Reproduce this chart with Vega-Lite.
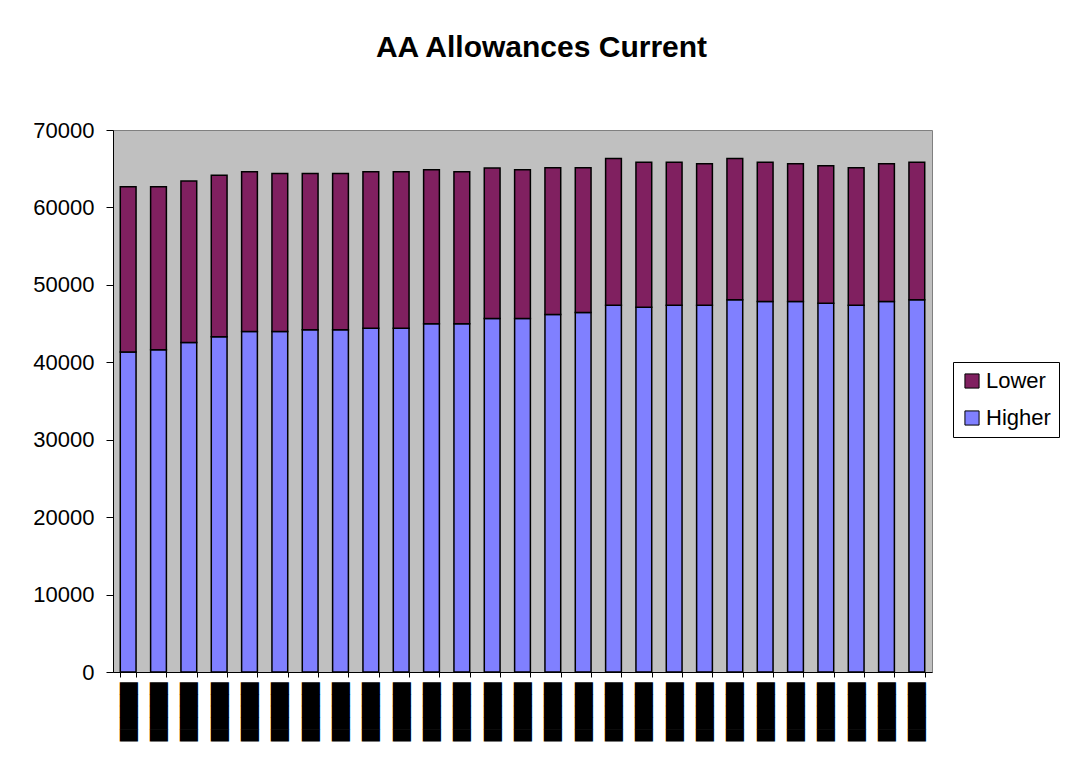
{
  "$schema": "https://vega.github.io/schema/vega-lite/v6.json",
  "autosize": {"type": "none"},
  "width": 819,
  "height": 542,
  "padding": {"left": 113, "top": 130, "right": 133, "bottom": 87},
  "background": "white",
  "title": {
    "text": "AA Allowances Current",
    "font": "Liberation Sans",
    "fontSize": 30,
    "fontWeight": "bold",
    "color": "black",
    "anchor": "middle",
    "frame": "group",
    "baseline": "alphabetic",
    "offset": 32,
    "dx": 19
  },
  "data": {
    "values": [
      {"period": "01", "Higher": 41330, "Lower": 21340},
      {"period": "02", "Higher": 41620, "Lower": 21050},
      {"period": "03", "Higher": 42560, "Lower": 20840},
      {"period": "04", "Higher": 43300, "Lower": 20870},
      {"period": "05", "Higher": 43980, "Lower": 20620},
      {"period": "06", "Higher": 43980, "Lower": 20410},
      {"period": "07", "Higher": 44200, "Lower": 20190},
      {"period": "08", "Higher": 44200, "Lower": 20190},
      {"period": "09", "Higher": 44410, "Lower": 20190},
      {"period": "10", "Higher": 44410, "Lower": 20190},
      {"period": "11", "Higher": 44970, "Lower": 19890},
      {"period": "12", "Higher": 44970, "Lower": 19630},
      {"period": "13", "Higher": 45660, "Lower": 19420},
      {"period": "14", "Higher": 45660, "Lower": 19200},
      {"period": "15", "Higher": 46170, "Lower": 18950},
      {"period": "16", "Higher": 46430, "Lower": 18690},
      {"period": "17", "Higher": 47380, "Lower": 18950},
      {"period": "18", "Higher": 47120, "Lower": 18730},
      {"period": "19", "Higher": 47380, "Lower": 18470},
      {"period": "20", "Higher": 47380, "Lower": 18250},
      {"period": "21", "Higher": 48070, "Lower": 18260},
      {"period": "22", "Higher": 47850, "Lower": 18000},
      {"period": "23", "Higher": 47850, "Lower": 17780},
      {"period": "24", "Higher": 47640, "Lower": 17740},
      {"period": "25", "Higher": 47380, "Lower": 17740},
      {"period": "26", "Higher": 47850, "Lower": 17780},
      {"period": "27", "Higher": 48070, "Lower": 17780}
    ]
  },
  "transform": [{"fold": ["Higher", "Lower"], "as": ["series", "value"]}],
  "mark": {"type": "bar", "stroke": "black", "strokeWidth": 1.5},
  "encoding": {
    "x": {
      "field": "period",
      "type": "nominal",
      "scale": {"paddingInner": 0.48, "paddingOuter": 0.24},
      "axis": {
        "title": null,
        "labelAngle": -90,
        "labelAlign": "right",
        "labelBaseline": "middle",
        "labelFont": "DejaVu Sans",
        "labelFontSize": 15.3,
        "labelColor": "black",
        "labelPadding": 5,
        "labelFlush": false,
        "labelBound": false,
        "labelOverlap": false,
        "labelExpr": "datum.label ? '█████' : ''",
        "tickBand": "extent",
        "tickSize": 5,
        "tickColor": "black",
        "domainColor": "black",
        "grid": false
      }
    },
    "y": {
      "field": "value",
      "type": "quantitative",
      "stack": "zero",
      "scale": {"domain": [0, 70000], "nice": false},
      "axis": {
        "title": null,
        "values": [0, 10000, 20000, 30000, 40000, 50000, 60000, 70000],
        "format": "d",
        "labelFont": "Liberation Sans",
        "labelFontSize": 22,
        "labelColor": "black",
        "labelPadding": 12,
        "tickSize": 7,
        "tickColor": "black",
        "domainColor": "black",
        "grid": false
      }
    },
    "color": {
      "field": "series",
      "type": "nominal",
      "scale": {"domain": ["Lower", "Higher"], "range": ["#802060", "#8080FF"]},
      "legend": {
        "title": null,
        "orient": "none",
        "legendX": 840,
        "legendY": 232,
        "symbolType": "square",
        "symbolSize": 200,
        "symbolStrokeColor": "black",
        "symbolStrokeWidth": 1,
        "labelFont": "Liberation Sans",
        "labelFontSize": 22,
        "labelColor": "black",
        "labelOffset": 3,
        "rowPadding": 15,
        "strokeColor": "black",
        "padding": 8,
        "fillColor": "white"
      }
    },
    "order": {"field": "series", "sort": "ascending"}
  },
  "config": {
    "view": {"fill": "#C0C0C0", "stroke": "#808080", "strokeWidth": 1}
  }
}
